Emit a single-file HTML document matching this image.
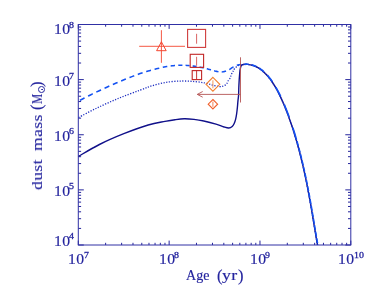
<!DOCTYPE html>
<html><head><meta charset="utf-8"><title>dust mass vs age</title>
<style>
html,body{margin:0;padding:0;background:#fff;}
body{width:374px;height:295px;position:relative;overflow:hidden;font-family:"Liberation Serif",serif;color:#24249e;}
.t{will-change:transform;}
.t{-webkit-text-stroke:0.15px currentColor;}
.t{position:absolute;white-space:nowrap;transform-origin:0 0;display:block;}
#yl{position:absolute;left:41.5px;top:189.5px;width:0;height:0;transform-origin:0 0;transform:rotate(-90deg);}
.sun{position:absolute;box-sizing:border-box;width:6.8px;height:6.8px;border:1px solid #24249e;border-radius:50%;}
.sund{position:absolute;width:1.6px;height:1.6px;background:#24249e;border-radius:50%;}
</style></head><body>
<svg width="374" height="295" viewBox="0 0 374 295" style="position:absolute;left:0;top:0">
<rect x="0" y="0" width="374" height="295" fill="#fff"/>
<path d="M78.30 245.0 v-4.4 M78.30 24.5 v4.4 M105.64 245.0 v-2.2 M105.64 24.5 v2.2 M121.64 245.0 v-2.2 M121.64 24.5 v2.2 M132.99 245.0 v-2.2 M132.99 24.5 v2.2 M141.79 245.0 v-2.2 M141.79 24.5 v2.2 M148.98 245.0 v-2.2 M148.98 24.5 v2.2 M155.06 245.0 v-2.2 M155.06 24.5 v2.2 M160.33 245.0 v-2.2 M160.33 24.5 v2.2 M164.98 245.0 v-2.2 M164.98 24.5 v2.2 M169.13 245.0 v-4.4 M169.13 24.5 v4.4 M196.48 245.0 v-2.2 M196.48 24.5 v2.2 M212.47 245.0 v-2.2 M212.47 24.5 v2.2 M223.82 245.0 v-2.2 M223.82 24.5 v2.2 M232.62 245.0 v-2.2 M232.62 24.5 v2.2 M239.82 245.0 v-2.2 M239.82 24.5 v2.2 M245.90 245.0 v-2.2 M245.90 24.5 v2.2 M251.16 245.0 v-2.2 M251.16 24.5 v2.2 M255.81 245.0 v-2.2 M255.81 24.5 v2.2 M259.97 245.0 v-4.4 M259.97 24.5 v4.4 M287.31 245.0 v-2.2 M287.31 24.5 v2.2 M303.31 245.0 v-2.2 M303.31 24.5 v2.2 M314.65 245.0 v-2.2 M314.65 24.5 v2.2 M323.46 245.0 v-2.2 M323.46 24.5 v2.2 M330.65 245.0 v-2.2 M330.65 24.5 v2.2 M336.73 245.0 v-2.2 M336.73 24.5 v2.2 M342.00 245.0 v-2.2 M342.00 24.5 v2.2 M346.64 245.0 v-2.2 M346.64 24.5 v2.2 M350.80 245.0 v-4.4 M350.80 24.5 v4.4 M78.3 245.00 h5.5 M350.8 245.00 h-5.5 M78.3 228.41 h2.8 M350.8 228.41 h-2.8 M78.3 218.70 h2.8 M350.8 218.70 h-2.8 M78.3 211.81 h2.8 M350.8 211.81 h-2.8 M78.3 206.47 h2.8 M350.8 206.47 h-2.8 M78.3 202.10 h2.8 M350.8 202.10 h-2.8 M78.3 198.41 h2.8 M350.8 198.41 h-2.8 M78.3 195.22 h2.8 M350.8 195.22 h-2.8 M78.3 192.40 h2.8 M350.8 192.40 h-2.8 M78.3 189.88 h5.5 M350.8 189.88 h-5.5 M78.3 173.28 h2.8 M350.8 173.28 h-2.8 M78.3 163.57 h2.8 M350.8 163.57 h-2.8 M78.3 156.69 h2.8 M350.8 156.69 h-2.8 M78.3 151.34 h2.8 M350.8 151.34 h-2.8 M78.3 146.98 h2.8 M350.8 146.98 h-2.8 M78.3 143.29 h2.8 M350.8 143.29 h-2.8 M78.3 140.09 h2.8 M350.8 140.09 h-2.8 M78.3 137.27 h2.8 M350.8 137.27 h-2.8 M78.3 134.75 h5.5 M350.8 134.75 h-5.5 M78.3 118.16 h2.8 M350.8 118.16 h-2.8 M78.3 108.45 h2.8 M350.8 108.45 h-2.8 M78.3 101.56 h2.8 M350.8 101.56 h-2.8 M78.3 96.22 h2.8 M350.8 96.22 h-2.8 M78.3 91.85 h2.8 M350.8 91.85 h-2.8 M78.3 88.16 h2.8 M350.8 88.16 h-2.8 M78.3 84.97 h2.8 M350.8 84.97 h-2.8 M78.3 82.15 h2.8 M350.8 82.15 h-2.8 M78.3 79.62 h5.5 M350.8 79.62 h-5.5 M78.3 63.03 h2.8 M350.8 63.03 h-2.8 M78.3 53.32 h2.8 M350.8 53.32 h-2.8 M78.3 46.44 h2.8 M350.8 46.44 h-2.8 M78.3 41.09 h2.8 M350.8 41.09 h-2.8 M78.3 36.73 h2.8 M350.8 36.73 h-2.8 M78.3 33.04 h2.8 M350.8 33.04 h-2.8 M78.3 29.84 h2.8 M350.8 29.84 h-2.8 M78.3 27.02 h2.8 M350.8 27.02 h-2.8 M78.3 24.50 h5.5 M350.8 24.50 h-5.5" stroke="#24249c" stroke-width="1" fill="none"/>
<rect x="78.3" y="24.5" width="272.50" height="220.50" fill="none" stroke="#3030a4" stroke-width="1"/>
<path d="M78.60 156.30 C82.07 154.33 91.87 148.27 99.40 144.50 C106.93 140.73 115.67 136.95 123.80 133.70 C131.93 130.45 141.33 127.05 148.20 125.00 C155.07 122.95 160.53 122.28 165.00 121.40 C169.47 120.52 171.78 120.13 175.00 119.70 C178.22 119.27 181.13 118.85 184.30 118.80 C187.47 118.75 190.75 119.03 194.00 119.40 C197.25 119.77 200.13 120.22 203.80 121.00 C207.47 121.78 212.62 123.10 216.00 124.10 C219.38 125.10 221.97 126.35 224.10 127.00 C226.23 127.65 227.45 128.08 228.80 128.00 C230.15 127.92 231.30 127.25 232.20 126.50 C233.10 125.75 233.63 124.68 234.20 123.50 C234.77 122.32 235.20 120.98 235.60 119.40 C236.00 117.82 236.30 116.03 236.60 114.00 C236.90 111.97 237.17 109.47 237.40 107.20 C237.63 104.93 237.80 102.43 238.00 100.40 C238.20 98.37 238.45 97.48 238.60 95.00 C238.75 92.52 238.72 89.12 238.90 85.50 C239.08 81.88 239.42 76.35 239.70 73.30 C239.98 70.25 240.22 68.58 240.60 67.20 C240.98 65.82 241.42 65.47 242.00 65.00 C242.58 64.53 243.43 64.52 244.10 64.40 C244.77 64.28 245.43 64.29 246.00 64.28 C246.57 64.28 247.00 64.34 247.50 64.39 C248.00 64.43 248.50 64.50 249.00 64.57 C249.50 64.65 250.00 64.74 250.50 64.84 C251.00 64.95 251.50 65.07 252.00 65.21 C252.50 65.35 253.00 65.50 253.50 65.68 C254.00 65.85 254.50 66.04 255.00 66.25 C255.50 66.46 256.00 66.68 256.50 66.93 C257.00 67.18 257.50 67.44 258.00 67.73 C258.50 68.02 259.00 68.32 259.50 68.65 C260.00 68.98 260.50 69.33 261.00 69.70 C261.50 70.07 262.00 70.46 262.50 70.88 C263.00 71.30 263.50 71.74 264.00 72.20 C264.50 72.66 265.00 73.15 265.50 73.66 C266.00 74.17 266.50 74.71 267.00 75.27 C267.50 75.83 268.00 76.42 268.50 77.03 C269.00 77.64 269.50 78.28 270.00 78.94 C270.50 79.61 271.00 80.30 271.50 81.01 C272.00 81.73 272.50 82.48 273.00 83.25 C273.50 84.02 274.00 84.82 274.50 85.64 C275.00 86.47 275.50 87.32 276.00 88.21 C276.50 89.09 277.00 90.00 277.50 90.93 C278.00 91.87 278.50 92.84 279.00 93.83 C279.50 94.83 280.00 95.85 280.50 96.90 C281.00 97.95 281.50 99.03 282.00 100.14 C282.50 101.25 283.00 102.38 283.50 103.55 C284.00 104.71 284.50 105.91 285.00 107.13 C285.50 108.36 286.00 109.61 286.50 110.89 C287.00 112.18 287.50 113.49 288.00 114.83 C288.50 116.18 289.00 117.55 289.50 118.96 C290.00 120.36 290.50 121.80 291.00 123.27 C291.50 124.74 292.00 126.24 292.50 127.78 C293.00 129.31 293.50 130.88 294.00 132.49 C294.50 134.10 295.00 135.74 295.50 137.43 C296.00 139.12 296.50 140.84 297.00 142.60 C297.50 144.37 298.00 146.18 298.50 148.04 C299.00 149.89 299.50 151.79 300.00 153.75 C300.50 155.70 301.00 157.70 301.50 159.76 C302.00 161.83 302.50 163.94 303.00 166.12 C303.50 168.29 304.00 170.53 304.50 172.83 C305.00 175.14 305.50 177.50 306.00 179.94 C306.50 182.38 307.00 184.88 307.50 187.45 C308.00 190.03 308.50 192.68 309.00 195.39 C309.50 198.10 310.00 200.89 310.50 203.73 C311.00 206.57 311.50 209.48 312.00 212.43 C312.50 215.37 313.00 218.38 313.50 221.39 C314.00 224.39 314.50 227.46 315.00 230.45 C315.50 233.44 316.08 236.91 316.50 239.33 C316.92 241.76 317.33 244.06 317.50 245.00" stroke="#10108a" stroke-width="1.4" fill="none" stroke-linejoin="round"/>
<path d="M78.60 117.50 C81.62 115.93 90.07 111.28 96.70 108.10 C103.33 104.92 111.17 101.40 118.40 98.40 C125.63 95.40 134.00 92.35 140.10 90.10 C146.20 87.85 150.02 86.28 155.00 84.90 C159.98 83.52 165.27 82.45 170.00 81.80 C174.73 81.15 179.23 81.03 183.40 81.00 C187.57 80.97 191.40 81.27 195.00 81.60 C198.60 81.93 202.00 82.40 205.00 83.00 C208.00 83.60 210.62 84.60 213.00 85.20 C215.38 85.80 217.63 86.43 219.30 86.60 C220.97 86.77 221.82 86.62 223.00 86.20 C224.18 85.78 225.57 84.97 226.40 84.10 C227.23 83.23 227.33 82.08 228.00 81.00 C228.67 79.92 229.88 78.63 230.40 77.60 C230.92 76.57 230.68 75.73 231.10 74.80 C231.52 73.87 232.52 72.75 232.90 72.00 C233.28 71.25 232.97 71.03 233.40 70.30 C233.83 69.57 234.62 68.42 235.50 67.60 C236.38 66.78 237.70 65.90 238.70 65.40 C239.70 64.90 240.60 64.77 241.50 64.60 C242.40 64.43 243.35 64.45 244.10 64.40 C244.85 64.35 245.43 64.29 246.00 64.28 C246.57 64.28 247.00 64.34 247.50 64.39 C248.00 64.43 248.50 64.50 249.00 64.57 C249.50 64.65 250.00 64.74 250.50 64.84 C251.00 64.95 251.50 65.07 252.00 65.21 C252.50 65.35 253.00 65.50 253.50 65.68 C254.00 65.85 254.50 66.04 255.00 66.25 C255.50 66.46 256.00 66.68 256.50 66.93 C257.00 67.18 257.50 67.44 258.00 67.73 C258.50 68.02 259.00 68.32 259.50 68.65 C260.00 68.98 260.50 69.33 261.00 69.70 C261.50 70.07 262.00 70.46 262.50 70.88 C263.00 71.30 263.50 71.74 264.00 72.20 C264.50 72.66 265.00 73.15 265.50 73.66 C266.00 74.17 266.50 74.71 267.00 75.27 C267.50 75.83 268.00 76.42 268.50 77.03 C269.00 77.64 269.50 78.28 270.00 78.94 C270.50 79.61 271.00 80.30 271.50 81.01 C272.00 81.73 272.50 82.48 273.00 83.25 C273.50 84.02 274.00 84.82 274.50 85.64 C275.00 86.47 275.50 87.32 276.00 88.21 C276.50 89.09 277.00 90.00 277.50 90.93 C278.00 91.87 278.50 92.84 279.00 93.83 C279.50 94.83 280.00 95.85 280.50 96.90 C281.00 97.95 281.50 99.03 282.00 100.14 C282.50 101.25 283.00 102.38 283.50 103.55 C284.00 104.71 284.50 105.91 285.00 107.13 C285.50 108.36 286.00 109.61 286.50 110.89 C287.00 112.18 287.50 113.49 288.00 114.83 C288.50 116.18 289.00 117.55 289.50 118.96 C290.00 120.36 290.50 121.80 291.00 123.27 C291.50 124.74 292.00 126.24 292.50 127.78 C293.00 129.31 293.50 130.88 294.00 132.49 C294.50 134.10 295.00 135.74 295.50 137.43 C296.00 139.12 296.50 140.84 297.00 142.60 C297.50 144.37 298.00 146.18 298.50 148.04 C299.00 149.89 299.50 151.79 300.00 153.75 C300.50 155.70 301.00 157.70 301.50 159.76 C302.00 161.83 302.50 163.94 303.00 166.12 C303.50 168.29 304.00 170.53 304.50 172.83 C305.00 175.14 305.50 177.50 306.00 179.94 C306.50 182.38 307.00 184.88 307.50 187.45 C308.00 190.03 308.50 192.68 309.00 195.39 C309.50 198.10 310.00 200.89 310.50 203.73 C311.00 206.57 311.50 209.48 312.00 212.43 C312.50 215.37 313.00 218.38 313.50 221.39 C314.00 224.39 314.50 227.46 315.00 230.45 C315.50 233.44 316.08 236.91 316.50 239.33 C316.92 241.76 317.33 244.06 317.50 245.00" stroke="#1c2cc0" stroke-width="1.3" fill="none" stroke-dasharray="1.2 1.5"/>
<path d="M79.90 100.34 L81.00 99.77 L82.59 98.96 L84.36 98.05 L84.58 97.94 M88.11 96.14 L88.33 96.03 L90.44 94.97 L92.56 93.91 L92.80 93.80 M96.33 92.08 L96.70 91.90 L98.72 90.94 L100.81 89.96 L101.04 89.86 M104.58 88.22 L105.12 87.97 L107.33 86.96 L109.30 86.07 M112.86 84.49 L114.00 83.99 L116.21 83.03 L117.59 82.45 M121.15 80.95 L122.85 80.25 L125.12 79.33 L125.90 79.02 M129.47 77.59 L129.68 77.51 L131.91 76.64 L134.09 75.81 L134.23 75.75 M137.82 74.42 L138.21 74.28 L140.10 73.60 L141.87 72.99 L142.59 72.75 M146.18 71.61 L146.64 71.47 L148.09 71.04 L149.50 70.65 L150.88 70.27 L150.97 70.25 M154.57 69.31 L155.00 69.20 L156.38 68.85 L157.72 68.51 L159.03 68.19 L159.26 68.14 M162.79 67.35 L162.88 67.33 L164.15 67.07 L165.42 66.83 L166.70 66.61 L167.29 66.51 M170.68 66.01 L171.93 65.85 L173.24 65.69 L174.55 65.56 L175.00 65.52 M178.26 65.28 L178.52 65.27 L179.85 65.22 L181.20 65.20 L182.42 65.21 M185.57 65.34 L186.86 65.43 L188.30 65.55 L189.59 65.67 M192.62 66.00 L193.77 66.14 L195.00 66.30 L196.15 66.46 L196.60 66.53 M199.59 67.07 L200.18 67.19 L201.12 67.39 L202.05 67.61 L203.00 67.83 L203.68 67.99 M206.76 68.74 L207.20 68.86 L208.36 69.17 L209.53 69.50 L210.69 69.83 L210.96 69.91 M214.13 70.78 L215.00 71.00 L215.90 71.20 L216.70 71.37 L217.43 71.52 L218.09 71.64 L218.45 71.71 M221.71 71.92 L222.00 71.90 L222.61 71.84 L223.23 71.75 L223.85 71.63 L224.47 71.49 L225.09 71.32 L225.71 71.14 L226.03 71.04 M229.29 69.63 L229.50 69.50 L229.97 69.19 L230.43 68.88 L230.88 68.56 L231.32 68.24 L231.75 67.94 L232.17 67.66 L232.60 67.40 L233.02 67.16 L233.43 66.92 L233.60 66.83 M236.85 65.27 L236.86 65.27 L237.22 65.15 L237.56 65.05 L237.90 64.96 L238.24 64.89 L238.58 64.82 L238.92 64.76 L239.27 64.70 L239.63 64.65 L240.00 64.60 L240.40 64.55 L240.85 64.52 L241.14 64.50 M244.39 64.37 L246.35 64.13 L247.85 64.24 L248.67 64.34 M251.90 64.95 L252.35 65.06 L253.85 65.53 L255.35 66.10 L256.23 66.50 M259.50 68.28 L259.85 68.50 L261.35 69.55 L262.85 70.73 L264.04 71.78 M267.47 75.26 L268.85 76.88 L270.35 78.79 L271.85 80.86 L272.24 81.45 M275.85 87.19 L276.35 88.06 L277.85 90.78 L279.35 93.68 L280.69 96.42 M284.35 104.58 L285.35 106.98 L286.85 110.74 L288.35 114.68 L289.19 116.99 M292.85 127.61 L292.85 127.63 L294.35 132.34 L295.85 137.28 L296.00 137.80" stroke="#1452f2" stroke-width="1.55" fill="none" stroke-linejoin="round"/>
<path d="M296.00 137.80 L297.35 142.45 L298.85 147.89 L300.35 153.60 L301.85 159.61 L303.35 165.97 L304.85 172.68 L306.35 179.79 L307.85 187.30 L309.35 195.24 L310.85 203.58 L312.35 212.28 L313.85 221.24 L315.35 230.30 L316.85 239.18 L317.85 244.85" stroke="#1452f2" stroke-width="1.5" fill="none" stroke-dasharray="5 1.6" stroke-dashoffset="3"/>
<path d="M139.2 46.3 H185 M161.4 30.2 V62.8" stroke="#f4452f" stroke-width="0.9" fill="none"/>
<path d="M161.4 41.8 L166.2 50.7 L156.6 50.7 Z" stroke="#f4452f" stroke-width="1" fill="none"/>
<rect x="187.6" y="29.4" width="18" height="18" stroke="#cf3c3c" stroke-width="1.1" fill="none"/>
<path d="M196.6 33.8 V43.7" stroke="#cf3c3c" stroke-width="0.8" fill="none"/>
<rect x="190.2" y="54.3" width="13.4" height="13.1" stroke="#c22626" stroke-width="1.1" fill="none"/>
<path d="M196.6 56.8 V65.6" stroke="#cf3c3c" stroke-width="0.8" fill="none"/>
<rect x="192.2" y="70.6" width="9.4" height="9" stroke="#c22626" stroke-width="1.1" fill="none"/>
<path d="M196.6 70.6 V79.6" stroke="#c22626" stroke-width="0.9" fill="none"/>
<path d="M212.9 77.39999999999999 L219.8 84.3 L212.9 91.2 L206.0 84.3 Z" stroke="#f28030" stroke-width="1.1" fill="none"/>
<path d="M212.9 80.3 V88.3" stroke="#f28030" stroke-width="0.8" fill="none"/>
<path d="M212.9 99.5 L217.6 104.2 L212.9 108.9 L208.20000000000002 104.2 Z" stroke="#f0602c" stroke-width="1.1" fill="none"/>
<path d="M212.9 101.60000000000001 V106.8" stroke="#f0602c" stroke-width="0.8" fill="none"/>
<path d="M240.5 57.3 V102.5 M240.5 94.4 H197.3 M202.7 91.5 L197.3 94.4 L202.7 97.2" stroke="#b45454" stroke-width="0.9" fill="none"/>
</svg>
<span class="t" style="left:68.26px;top:252.33px;font-size:14px;line-height:15.498px;transform:scaleX(1.12);letter-spacing:0.4px;">10</span><span class="t" style="left:83.60px;top:250.88px;font-size:9px;line-height:9.963px;transform:scaleX(1.1);-webkit-text-stroke:0.3px currentColor;">7</span><span class="t" style="left:159.10px;top:252.33px;font-size:14px;line-height:15.498px;transform:scaleX(1.12);letter-spacing:0.4px;">10</span><span class="t" style="left:174.43px;top:250.88px;font-size:9px;line-height:9.963px;transform:scaleX(1.1);-webkit-text-stroke:0.3px currentColor;">8</span><span class="t" style="left:249.93px;top:252.33px;font-size:14px;line-height:15.498px;transform:scaleX(1.12);letter-spacing:0.4px;">10</span><span class="t" style="left:265.27px;top:250.88px;font-size:9px;line-height:9.963px;transform:scaleX(1.1);-webkit-text-stroke:0.3px currentColor;">9</span><span class="t" style="left:338.16px;top:252.33px;font-size:14px;line-height:15.498px;transform:scaleX(1.12);letter-spacing:0.4px;">10</span><span class="t" style="left:353.50px;top:250.88px;font-size:9px;line-height:9.963px;transform:scaleX(1.1);-webkit-text-stroke:0.3px currentColor;">10</span><span class="t" style="left:54.26px;top:22.23px;font-size:14px;line-height:15.498px;transform:scaleX(1.12);letter-spacing:0.4px;">10</span><span class="t" style="left:69.30px;top:20.78px;font-size:9px;line-height:9.963px;transform:scaleX(1.1);-webkit-text-stroke:0.3px currentColor;">8</span><span class="t" style="left:54.26px;top:73.53px;font-size:14px;line-height:15.498px;transform:scaleX(1.12);letter-spacing:0.4px;">10</span><span class="t" style="left:69.30px;top:72.08px;font-size:9px;line-height:9.963px;transform:scaleX(1.1);-webkit-text-stroke:0.3px currentColor;">7</span><span class="t" style="left:54.26px;top:128.53px;font-size:14px;line-height:15.498px;transform:scaleX(1.12);letter-spacing:0.4px;">10</span><span class="t" style="left:69.30px;top:127.08px;font-size:9px;line-height:9.963px;transform:scaleX(1.1);-webkit-text-stroke:0.3px currentColor;">6</span><span class="t" style="left:54.26px;top:183.53px;font-size:14px;line-height:15.498px;transform:scaleX(1.12);letter-spacing:0.4px;">10</span><span class="t" style="left:69.30px;top:182.08px;font-size:9px;line-height:9.963px;transform:scaleX(1.1);-webkit-text-stroke:0.3px currentColor;">5</span><span class="t" style="left:54.26px;top:233.83px;font-size:14px;line-height:15.498px;transform:scaleX(1.12);letter-spacing:0.4px;">10</span><span class="t" style="left:69.30px;top:232.38px;font-size:9px;line-height:9.963px;transform:scaleX(1.1);-webkit-text-stroke:0.3px currentColor;">4</span>
<span class="t" style="left:186.30px;top:268.43px;font-size:14px;line-height:15.498px;letter-spacing:0.05px;">Age</span><span class="t" style="left:216.70px;top:266.50px;font-size:16.5px;line-height:18.265px;">(</span><span class="t" style="left:221.90px;top:268.43px;font-size:14px;line-height:15.498px;transform:scaleX(1.27);letter-spacing:0.3px;">yr</span><span class="t" style="left:238.00px;top:266.50px;font-size:16.5px;line-height:18.265px;">)</span>
<div id="yl"><span class="t" style="left:-0.20px;top:-12.92px;font-size:14.5px;line-height:16.052px;transform:scaleX(1.2);letter-spacing:0.4px;">dust</span><span class="t" style="left:38.80px;top:-12.92px;font-size:14.5px;line-height:16.052px;transform:scaleX(1.2);letter-spacing:0.4px;">mass</span><span class="t" style="left:80.40px;top:-14.40px;font-size:16.5px;line-height:18.265px;">(</span><span class="t" style="left:85.90px;top:-12.47px;font-size:14px;line-height:15.498px;transform:scaleX(0.82);">M</span><span class="sun" style="left:97.0px;top:-3.7px"></span><span class="sund" style="left:99.6px;top:-1.1px"></span><span class="t" style="left:103.00px;top:-14.40px;font-size:16.5px;line-height:18.265px;">)</span></div>
</body></html>
